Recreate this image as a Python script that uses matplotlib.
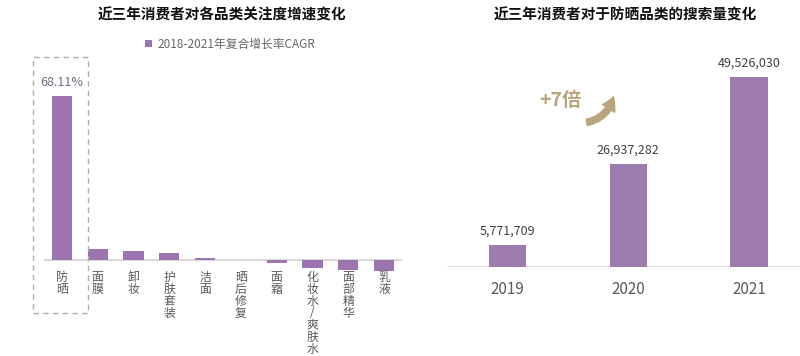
import numpy as np
import matplotlib
matplotlib.use("Agg")
import matplotlib.pyplot as plt
from matplotlib.patches import Rectangle, FancyArrowPatch

plt.rcParams["font.family"] = ["Noto Sans CJK SC", "DejaVu Sans"]

# left chart: CAGR of attention by category
categories = ["防晒", "面膜", "卸妆", "护肤套装", "洁面", "晒后修复", "面霜",
              "化妆水/爽肤水", "面部精华", "乳液"]
cagr = [68.11, 4.4, 3.9, 2.8, 0.8, -0.2, -1.2, -3.2, -4.2, -4.5]
legend_label = "2018-2021年复合增长率CAGR"

# right chart: sunscreen search volume
years = ["2019", "2020", "2021"]
searches = [5771709, 26937282, 49526030]

LEFT_BAR = "#9b74b0"
RIGHT_BAR = "#9d7db0"
GREY = "#595959"
BASE = "#d9d9d9"

W, H = 800, 356
fig = plt.figure(figsize=(W / 100, H / 100), dpi=100)


def frac(x0, y0, x1, y1):
    # pixel box -> figure fraction rect
    return [x0 / W, 1 - y1 / H, (x1 - x0) / W, (y1 - y0) / H]


# ---------- left ----------
ax1 = fig.add_axes(frac(44, 57, 402, 300))
scale1 = 68.11 / 164  # % per pixel
ax1.set_ylim(-(300 - 260) * scale1, (260 - 57) * scale1)
ax1.set_xlim(-0.5, 9.5)
x1 = np.arange(len(categories))
ax1.bar(x1, cagr, width=0.56, color=LEFT_BAR, label=legend_label)
ax1.axhline(0, color=BASE, linewidth=1.5, zorder=0)
ax1.axis("off")

ax1.text(0, cagr[0] + 14 * scale1, f"{cagr[0]:.2f}%", ha="center", va="center",
         fontsize=9, color="#6e6a80")
# vertical labels, one glyph per row so the spacing stays tight
for xi, lab in zip(x1, categories):
    for j, ch in enumerate(lab):
        ax1.annotate(ch, (xi, 0), xytext=(0, -17 - 12 * j),
                     textcoords="offset pixels", ha="center", va="center",
                     fontsize=8.6, color=GREY, annotation_clip=False)

ax1.legend(loc="center", bbox_to_anchor=(0.52, 1.053), frameon=False,
           handlelength=0.6, handleheight=0.6, handletextpad=0.4,
           fontsize=8.5, labelcolor="#666666")

fig.patches.append(Rectangle((33 / W, 1 - 313 / H), 55 / W, 256 / H,
                             transform=fig.transFigure, fill=False,
                             edgecolor="#b0b0a0", linestyle=(0, (4, 3)),
                             linewidth=1.0))

fig.text(222 / W, 1 - 15 / H, "近三年消费者对各品类关注度增速变化",
         ha="center", va="center", fontsize=10.5, fontweight="bold", color="#111111")

# ---------- right ----------
ax2 = fig.add_axes(frac(447, 57, 800, 267))
scale2 = 49526030 / 190
ax2.set_ylim(0, (267 - 57) * scale2)
ax2.set_xlim(-0.5, 2.42)
x2 = np.arange(len(years))
ax2.bar(x2, searches, width=0.31, color=RIGHT_BAR)
ax2.axhline(0, color=BASE, linewidth=2, zorder=0)
for s in ax2.spines.values():
    s.set_visible(False)
ax2.set_yticks([])
ax2.set_xticks(x2)
ax2.set_xticklabels(years, fontsize=11, color=GREY)
ax2.tick_params(axis="x", length=0, pad=10)
for xi, v in zip(x2, searches):
    ax2.text(xi, v + 14 * scale2, f"{v:,}", ha="center", va="center",
             fontsize=9, color="#404040")

fig.text(625 / W, 1 - 15 / H, "近三年消费者对于防晒品类的搜索量变化",
         ha="center", va="center", fontsize=10.5, fontweight="bold", color="#111111")

fig.text(560 / W, 1 - 100 / H, "+7倍", ha="center", va="center",
         fontsize=14, fontweight="bold", color="#b9a57c")
arrow = FancyArrowPatch((584 / W, 1 - 123 / H), (614 / W, 1 - 94 / H),
                        transform=fig.transFigure,
                        connectionstyle="arc3,rad=0.35",
                        arrowstyle="simple,head_length=0.7,head_width=0.8,tail_width=0.35",
                        mutation_scale=13, color="#b9a57c")
fig.patches.append(arrow)

fig.savefig("out.png", dpi=100, facecolor="white")
